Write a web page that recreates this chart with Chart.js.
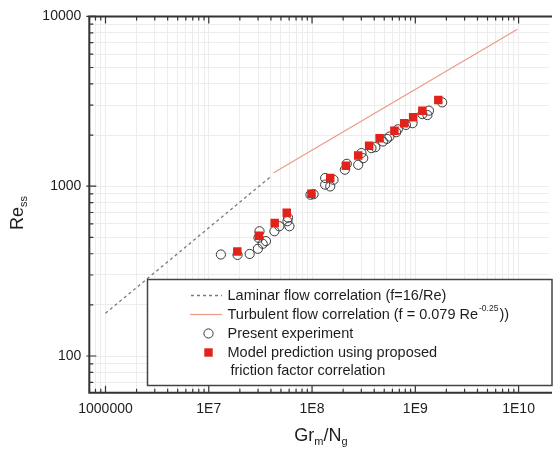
<!DOCTYPE html>
<html>
<head>
<meta charset="utf-8">
<script src="https://cdn.jsdelivr.net/npm/chart.js@4.4.0/dist/chart.umd.min.js"></script>
<style>
  html, body { margin: 0; padding: 0; background: #fff; overflow: hidden; }
  #wrap { position: relative; width: 555px; height: 450px; }
</style>
</head>
<body>
<div id="wrap"><canvas id="chart"></canvas></div>
<script>
// present experiment (open circles)
const expX = [1.31e7, 1.90e7, 2.49e7, 2.99e7, 3.33e7, 3.58e7, 3.10e7, 3.03e7, 4.32e7, 4.82e7,
              5.78e7, 6.04e7, 5.85e7, 9.66e7, 1.035e8, 1.34e8, 1.50e8, 1.615e8, 1.34e8, 2.08e8,
              2.17e8, 2.80e8, 3.13e8, 3.01e8, 4.10e8, 3.76e8, 4.86e8, 5.31e8, 5.62e8, 6.77e8,
              6.52e8, 8.11e8, 9.40e8, 1.17e9, 1.355e9, 1.31e9, 1.82e9];
const expY = [396, 394, 399, 428, 458, 475, 543, 497, 543, 581,
              622, 581, 653, 891, 897, 1021, 997, 1091, 1117, 1251,
              1355, 1337, 1463, 1567, 1698, 1675, 1833, 1901, 1961, 2163,
              2080, 2296, 2350, 2660, 2786, 2624, 3117];

// model prediction (red squares)
const modelX = [1.89e7, 3.06e7, 4.35e7, 5.69e7, 9.86e7, 1.50e8, 2.13e8, 2.80e8, 3.57e8, 4.51e8,
                6.27e8, 7.81e8, 9.53e8, 1.17e9, 1.67e9];
const modelY = [412, 510, 608, 697, 904, 1117, 1318, 1517, 1730, 1918,
                2123, 2350, 2548, 2786, 3214];

// correlation lines (end points, straight on log-log)
const laminarX = [1.0e6, 3.97e7];
const laminarY = [178.6, 1138];
const turbulentX = [4.25e7, 9.75e9];
const turbulentY = [1199, 8400];

const xTickValues = [1e6, 1e7, 1e8, 1e9, 1e10];
const xTickLabels = ['1000000', '1E7', '1E8', '1E9', '1E10'];
const yTickValues = [100, 1000, 10000];
const yTickLabels = ['100', '1000', '10000'];

const X_MIN = 6.97e5, X_MAX = 1.97e10;
const Y_MIN = 60.8, Y_MAX = 10000;

const FONT = "'Liberation Sans', Arial, Helvetica, sans-serif";
const TEXT = '#1e1e1e';

function logTickValues(min, max) {
    const vals = [];
    for (let e = Math.floor(Math.log10(min)); e <= Math.ceil(Math.log10(max)); e++) {
        for (let d = 1; d <= 9; d++) {
            const v = d * Math.pow(10, e);
            if (v >= min && v <= max) vals.push(v);
        }
    }
    return vals;
}

function labelFor(values, labels, v) {
    const i = values.findIndex(t => Math.abs(v / t - 1) < 1e-6);
    return i >= 0 ? labels[i] : '';
}

function isDecade(v) {
    const l = Math.log10(v);
    return Math.abs(l - Math.round(l)) < 1e-6;
}

const toPoints = (xs, ys) => xs.map((x, i) => ({ x: x, y: ys[i] }));

const framePlugin = {
    id: 'frame',
    beforeDraw(chart) {
        const ctx = chart.ctx;
        ctx.save();
        ctx.fillStyle = '#fff';
        ctx.fillRect(0, 0, chart.width, chart.height);
        ctx.restore();
    },
    afterDatasetsDraw(chart) {
        const { ctx, chartArea: a, scales: { x, y } } = chart;
        ctx.save();

        // axis lines (right side is cut off in the original)
        ctx.strokeStyle = '#333';
        ctx.lineWidth = 2;
        ctx.beginPath();
        ctx.moveTo(a.right + 3, a.top);
        ctx.lineTo(a.left, a.top);
        ctx.lineTo(a.left, a.bottom);
        ctx.lineTo(a.right + 3, a.bottom);
        ctx.stroke();

        // inward tick marks
        ctx.lineWidth = 1.2;
        ctx.beginPath();
        x.ticks.forEach(t => {
            const px = x.getPixelForValue(t.value);
            const len = isDecade(t.value) ? 7 : 4;
            ctx.moveTo(px, a.top); ctx.lineTo(px, a.top + len);
            ctx.moveTo(px, a.bottom); ctx.lineTo(px, a.bottom - len);
        });
        y.ticks.forEach(t => {
            const py = y.getPixelForValue(t.value);
            const major = isDecade(t.value);
            ctx.moveTo(a.left - (major ? 3 : 0), py);
            ctx.lineTo(a.left + (major ? 7 : 4), py);
        });
        ctx.stroke();

        // legend box
        const box = { l: 147.5, t: 279.5, r: 552, b: 385.5 };
        ctx.fillStyle = '#fff';
        ctx.fillRect(box.l, box.t, box.r - box.l, box.b - box.t);
        ctx.strokeStyle = '#444';
        ctx.lineWidth = 1.5;
        ctx.strokeRect(box.l, box.t, box.r - box.l, box.b - box.t);

        const ds = chart.data.datasets;
        const symX = 208.5, textX = 227.5;
        const rows = [295.5, 314.5, 333.5, 352.5, 370.5];

        ctx.lineWidth = ds[0].borderWidth;
        ctx.strokeStyle = ds[0].borderColor;
        ctx.setLineDash(ds[0].borderDash);
        ctx.beginPath();
        ctx.moveTo(191, rows[0]); ctx.lineTo(222, rows[0]);
        ctx.stroke();
        ctx.setLineDash([]);

        ctx.lineWidth = ds[1].borderWidth;
        ctx.strokeStyle = ds[1].borderColor;
        ctx.beginPath();
        ctx.moveTo(190, rows[1]); ctx.lineTo(222, rows[1]);
        ctx.stroke();

        ctx.lineWidth = ds[2].borderWidth;
        ctx.strokeStyle = ds[2].borderColor;
        ctx.beginPath();
        ctx.arc(symX, rows[2], ds[2].pointRadius, 0, Math.PI * 2);
        ctx.stroke();

        ctx.fillStyle = ds[3].backgroundColor;
        ctx.fillRect(symX - 4.2, rows[3] - 4.2, 8.4, 8.4);

        ctx.fillStyle = TEXT;
        ctx.textBaseline = 'middle';
        ctx.textAlign = 'left';
        ctx.font = '14.5px ' + FONT;
        ctx.fillText('Laminar flow correlation (f=16/Re)', textX, rows[0]);
        const t2 = 'Turbulent flow correlation (f = 0.079 Re';
        ctx.fillText(t2, textX, rows[1]);
        let w = ctx.measureText(t2).width;
        ctx.font = '8.5px ' + FONT;
        ctx.fillText('-0.25', textX + w + 1, rows[1] - 6);
        const ws = ctx.measureText('-0.25').width;
        ctx.font = '14.5px ' + FONT;
        ctx.fillText('))', textX + w + ws + 2, rows[1]);
        ctx.fillText('Present experiment', textX, rows[2]);
        ctx.fillText('Model prediction using proposed', textX, rows[3]);
        ctx.fillText('friction factor correlation', textX + 3, rows[4]);

        // x axis title: Gr_m/N_g
        const big = '18px ' + FONT, small = '11px ' + FONT;
        const parts = [['Gr', big, 0], ['m', small, 6], ['/N', big, 0], ['g', small, 6]];
        let total = 0;
        parts.forEach(p => { ctx.font = p[1]; total += ctx.measureText(p[0]).width; });
        let cx = 321 - total / 2;
        parts.forEach(p => {
            ctx.font = p[1];
            ctx.fillText(p[0], cx, 436 + p[2]);
            cx += ctx.measureText(p[0]).width;
        });

        // y axis title: Re_ss (rotated)
        ctx.translate(18, 213);
        ctx.rotate(-Math.PI / 2);
        const yparts = [['Re', big, 0], ['ss', small, 6]];
        total = 0;
        yparts.forEach(p => { ctx.font = p[1]; total += ctx.measureText(p[0]).width; });
        cx = -total / 2;
        yparts.forEach(p => {
            ctx.font = p[1];
            ctx.fillText(p[0], cx, p[2]);
            cx += ctx.measureText(p[0]).width;
        });

        ctx.restore();
    }
};

document.addEventListener('DOMContentLoaded', () => {
    const ctx = document.getElementById('chart');

    new Chart(ctx, {
        type: 'scatter',
        data: {
            datasets: [
                {
                    label: 'Laminar flow correlation (f=16/Re)',
                    data: toPoints(laminarX, laminarY),
                    showLine: true,
                    borderColor: '#7a7a7a',
                    borderWidth: 1.3,
                    borderDash: [3, 3],
                    pointRadius: 0,
                    order: 4
                },
                {
                    label: 'Turbulent flow correlation',
                    data: toPoints(turbulentX, turbulentY),
                    showLine: true,
                    borderColor: '#ec9a88',
                    borderWidth: 1.2,
                    pointRadius: 0,
                    order: 3
                },
                {
                    label: 'Present experiment',
                    data: toPoints(expX, expY),
                    pointStyle: 'circle',
                    pointRadius: 4.6,
                    borderWidth: 1,
                    borderColor: '#3a3a3a',
                    backgroundColor: 'rgba(255,255,255,0)',
                    order: 2
                },
                {
                    label: 'Model prediction',
                    data: toPoints(modelX, modelY),
                    pointStyle: 'rect',
                    pointRadius: 6,
                    borderWidth: 0,
                    borderColor: '#e2231c',
                    backgroundColor: '#e2231c',
                    order: 1
                }
            ]
        },
        options: {
            responsive: true,
            maintainAspectRatio: false,
            animation: false,
            events: [],
            layout: { padding: { top: 16, right: 0, left: 0, bottom: 0 } },
            plugins: {
                legend: { display: false },
                tooltip: { enabled: false }
            },
            scales: {
                x: {
                    type: 'logarithmic',
                    min: X_MIN,
                    max: X_MAX,
                    afterBuildTicks: s => { s.ticks = logTickValues(X_MIN, X_MAX).map(v => ({ value: v })); },
                    afterFit: s => { s.height = 450 - 392.7; },
                    grid: { color: '#ededed', lineWidth: 1, drawTicks: false },
                    border: { display: false },
                    ticks: {
                        autoSkip: false,
                        maxRotation: 0,
                        padding: 8,
                        color: TEXT,
                        font: { family: FONT, size: 14 },
                        callback: v => labelFor(xTickValues, xTickLabels, v)
                    }
                },
                y: {
                    type: 'logarithmic',
                    min: Y_MIN,
                    max: Y_MAX,
                    afterBuildTicks: s => { s.ticks = logTickValues(Y_MIN, Y_MAX).map(v => ({ value: v })); },
                    afterFit: s => { s.width = 89.3; },
                    grid: { color: '#ededed', lineWidth: 1, drawTicks: false },
                    border: { display: false },
                    ticks: {
                        autoSkip: false,
                        padding: 8,
                        color: TEXT,
                        font: { family: FONT, size: 14 },
                        callback: v => labelFor(yTickValues, yTickLabels, v)
                    }
                }
            }
        },
        plugins: [framePlugin]
    });
});
</script>
</body>
</html>
